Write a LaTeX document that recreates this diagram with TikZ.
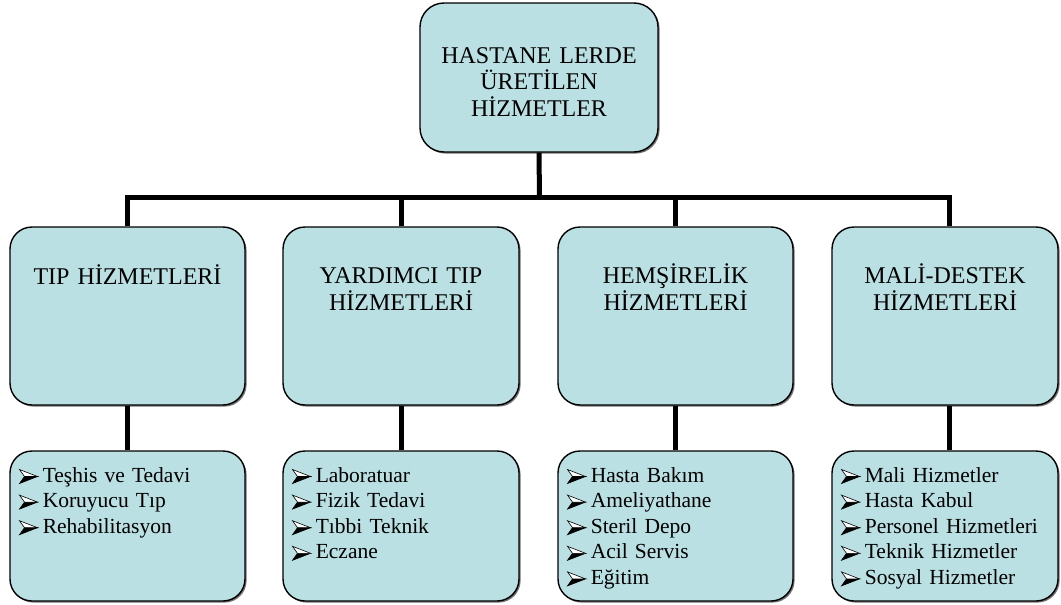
\documentclass[tikz,border=0pt]{standalone}
\usepackage{fontspec}
\setmainfont{Liberation Serif}
\usetikzlibrary{shadows}
\definecolor{boxfill}{RGB}{186,224,227}

% three-dimensional arrowhead bullet
\newcommand{\arrowbullet}{\tikz[x=1pt,y=1pt,baseline=0pt,line width=0.6pt,line join=miter]{%
  \filldraw[fill=black,draw=black] (5,5.5) -- (18,5.5) -- (0,-1.5) -- cycle;
  \filldraw[fill=white,draw=black] (0,12.5) -- (18,5.5) -- (5,5.5) -- cycle;}\hspace{5pt}}

\begin{document}
\begin{tikzpicture}[x=1pt,y=-1pt,
  box/.style={draw=black, line width=1.4pt, fill=boxfill, rounded corners=22pt,
    inner sep=0pt, minimum height=#1,
    general shadow={fill=black!55, shadow xshift=1.6pt, shadow yshift=-1.6pt}},
  conn/.style={line width=5pt, line join=miter},
  title/.style={anchor=base, inner sep=0pt, text width=230pt, align=center,
    font=\fontsize{24}{26.5}\selectfont},
  items/.style={anchor=base west, inner sep=0pt, text width=225pt, align=left,
    font=\fontsize{21.5}{25.6}\selectfont}]
\useasboundingbox (0,0) rectangle (1061,605);

% boxes
\node[box=149pt, minimum width=238pt, rounded corners=24pt] (top) at (539,77.5) {};
\node[box=178pt, minimum width=235pt] (m1) at (127.5,316) {};
\node[box=178pt, minimum width=236pt] (m2) at (401,316) {};
\node[box=178pt, minimum width=235pt] (m3) at (675.5,316) {};
\node[box=178pt, minimum width=226pt] (m4) at (945,316) {};
\node[box=150pt, minimum width=235pt] (b1) at (127.5,526) {};
\node[box=150pt, minimum width=236pt] (b2) at (401,526) {};
\node[box=150pt, minimum width=235pt] (b3) at (675.5,526) {};
\node[box=150pt, minimum width=226pt] (b4) at (945,526) {};

% connectors
\coordinate (bus) at (539.5,197.5);
\coordinate (m4in) at ([xshift=4pt]m4.north);
\coordinate (m4out) at ([xshift=4pt]m4.south);
\coordinate (b4in) at ([xshift=4pt]b4.north);
\draw[conn] (top.south) -- (bus);
\draw[conn] (m1.north) |- (bus) -| (m4in);
\draw[conn] (m2.north) -- (m2.north |- bus);
\draw[conn] (m3.north) -- (m3.north |- bus);
\draw[conn] (m1.south) -- (b1.north);
\draw[conn] (m2.south) -- (b2.north);
\draw[conn] (m3.south) -- (b3.north);
\draw[conn] (m4out) -- (b4in);

% titles
\node[title] (ttop) at (539,63.3) {HASTANE LERDE\\ÜRETİLEN\\HİZMETLER};
\node[title] (t1) at (127.5,284.5) {TIP HİZMETLERİ};
\node[title] (t2) at (401,283.5) {YARDIMCI TIP\\HİZMETLERİ};
\node[title] (t3) at (675.5,283.5) {HEMŞİRELİK\\HİZMETLERİ};
\node[title] (t4) at (945,283.5) {MALİ-DESTEK\\HİZMETLERİ};

% service lists
\node[items] (l1) at (19,482) {\arrowbullet Teşhis ve Tedavi\\\arrowbullet Koruyucu Tıp\\\arrowbullet Rehabilitasyon};
\node[items] (l2) at (292,482) {\arrowbullet Laboratuar\\\arrowbullet Fizik Tedavi\\\arrowbullet Tıbbi Teknik\\\arrowbullet Eczane};
\node[items] (l3) at (567,482) {\arrowbullet Hasta Bakım\\\arrowbullet Ameliyathane\\\arrowbullet Steril Depo\\\arrowbullet Acil Servis\\\arrowbullet Eğitim};
\node[items] (l4) at (841,482) {\arrowbullet Mali Hizmetler\\\arrowbullet Hasta Kabul\\\arrowbullet Personel Hizmetleri\\\arrowbullet Teknik Hizmetler\\\arrowbullet Sosyal Hizmetler};
\end{tikzpicture}
\end{document}
